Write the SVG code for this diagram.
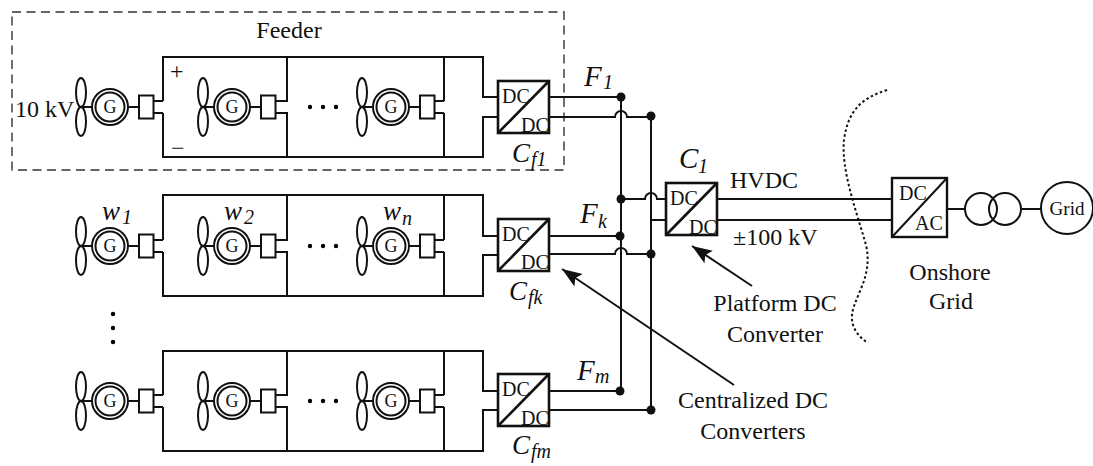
<svg xmlns="http://www.w3.org/2000/svg" width="1093" height="466" viewBox="0 0 1093 466">
<style>
text{font-family:"Liberation Serif","Times New Roman",serif;fill:#111}
.l{fill:none;stroke:#111;stroke-width:2}
.t{font-size:24px}
.d{font-size:20px}
.g{font-size:18px;text-anchor:middle}
.i{font-style:italic;font-size:29px}
.w{font-style:italic;font-size:27px}
.s{font-style:italic;font-size:20px}
.m{text-anchor:middle}
</style>
<defs>
<g id="wt" class="l">
<ellipse cx="0" cy="-14.5" rx="5" ry="14.5"/><ellipse cx="0" cy="14.5" rx="5" ry="14.5"/>
<path d="M0 0H11M47 0H58"/>
<circle cx="29" cy="0" r="18"/><circle cx="29" cy="0" r="14.5"/>
<rect x="58" y="-11.5" width="14.5" height="23"/>
<path d="M72.5 -6H82M72.5 6H82"/>
</g>
<g id="conv" class="l" style="stroke-width:2.6"><rect x="0" y="0" width="51" height="52"/><path d="M0 52L51 0"/></g>
<marker id="ah" markerWidth="22" markerHeight="18" refX="20" refY="9" orient="auto-start-reverse" markerUnits="userSpaceOnUse"><path d="M20 9L0 1.5L4 9L0 16.5Z" fill="#111"/></marker>
<g id="dots"><circle cx="310" cy="0" r="2.2"/><circle cx="323" cy="0" r="2.2"/><circle cx="336" cy="0" r="2.2"/></g>
</defs>
<g id="feeder-frame"><rect x="12" y="12" width="552" height="158" fill="none" stroke="#333" stroke-width="1.4" stroke-dasharray="9 5.5"/><text x="289" y="38" class="t m">Feeder</text></g>
<g id="feeder-1">
<use href="#wt" x="81" y="107"/><use href="#wt" x="203" y="107"/><use href="#wt" x="362" y="107"/>
<path class="l" d="M163 101V57H483V97H498M163 113V157H483V117H498M287 57V101H285M287 157V113H285M444 57V101M444 157V113"/>
<text x="110" y="113" class="g">G</text><text x="232" y="113" class="g">G</text><text x="391" y="113" class="g">G</text>
<text x="15" y="117" class="t">10 kV</text><text x="170" y="79" class="t">+</text><text x="171" y="156" class="t">−</text>
<use href="#dots" y="107"/>
</g>
<g id="feeder-k">
<use href="#wt" x="81" y="246"/><use href="#wt" x="203" y="246"/><use href="#wt" x="362" y="246"/>
<path class="l" d="M163 240V195H483V236H498M163 252V296H483V255H498M287 195V240H285M287 296V252H285M444 195V240M444 296V252"/>
<text x="110" y="252" class="g">G</text><text x="232" y="252" class="g">G</text><text x="391" y="252" class="g">G</text>
<text x="102" y="220" class="w">w</text><text x="122" y="224" class="s">1</text>
<text x="224" y="220" class="w">w</text><text x="244" y="224" class="s">2</text>
<text x="383" y="220" class="w">w</text><text x="402" y="225" class="s">n</text>
<use href="#dots" y="246"/>
</g>
<g id="feeder-m">
<use href="#wt" x="81" y="401"/><use href="#wt" x="203" y="401"/><use href="#wt" x="362" y="401"/>
<path class="l" d="M163 395V351H483V391H498M163 407V451H483V410H498M287 351V395H285M287 451V407H285M444 351V395M444 451V407"/>
<text x="110" y="407" class="g">G</text><text x="232" y="407" class="g">G</text><text x="391" y="407" class="g">G</text>
<use href="#dots" y="401"/>
<circle cx="113" cy="314" r="2.2"/><circle cx="113" cy="328" r="2.2"/><circle cx="113" cy="342" r="2.2"/>
</g>
<g id="conv-f1"><use href="#conv" x="498" y="81"/><text x="502" y="103" class="d">DC</text><text x="521" y="132" class="d">DC</text><text x="512" y="162" class="w">C</text><text x="531" y="166" class="s">f1</text></g>
<g id="conv-fk"><use href="#conv" x="498" y="219"/><text x="502" y="241" class="d">DC</text><text x="521" y="269" class="d">DC</text><text x="509" y="300" class="w">C</text><text x="528" y="304" class="s">fk</text></g>
<g id="conv-fm"><use href="#conv" x="498" y="374"/><text x="502" y="396" class="d">DC</text><text x="521" y="425" class="d">DC</text><text x="512" y="454" class="w">C</text><text x="531" y="458" class="s">fm</text></g>
<g id="conv-c1"><use href="#conv" x="666" y="183"/><text x="670" y="205" class="d">DC</text><text x="689" y="234" class="d">DC</text><text x="679" y="168" class="i">C</text><text x="698" y="173" class="s">1</text></g>
<g id="conv-ac"><rect x="892" y="178" width="55" height="59" class="l" style="stroke-width:2.4"/><path class="l" d="M892 237L947 178"/><text x="899" y="200" class="d">DC</text><text x="915" y="230" class="d">AC</text></g>
<g id="transformer"><circle class="l" cx="981" cy="209" r="16"/><circle class="l" cx="1005" cy="209" r="16"/></g>
<g id="grid"><circle class="l" cx="1067" cy="208" r="26"/><text x="1067" y="215" class="m" style="font-size:19px">Grid</text></g>
<g id="connectors">
<path class="l" d="M549 97H621M549 117H615A6 6 0 0 1 627 117H651M549 236H620M549 254H615A6 6 0 0 1 627 254H651M549 391H620M549 410H651"/>
<path class="l" d="M621 97V391M651 116V410"/>
<path class="l" d="M621 199H645A6 6 0 0 1 657 199H666M651 220H666M717 199H892M717 220H892M947 209H965M1021 209H1041"/>
<g fill="#111"><circle cx="621" cy="97" r="4.5"/><circle cx="651" cy="116" r="4.5"/><circle cx="621" cy="199" r="4.5"/><circle cx="620" cy="236" r="4.5"/><circle cx="651" cy="254" r="4.5"/><circle cx="620" cy="391" r="4.5"/><circle cx="651" cy="410" r="4.5"/></g>
<path class="l" d="M692 246L752 286" marker-start="url(#ah)"/>
<path class="l" d="M562 269L734 385" marker-start="url(#ah)"/>
<path d="M887 90C862 98 848 110 844 140C841 170 856 210 866 245C874 280 850 300 852 320C853 330 860 338 868 343" fill="none" stroke="#111" stroke-width="2" stroke-dasharray="2.5 2.5"/>
</g>
<g id="labels">
<text x="584" y="86" class="i">F</text><text x="603" y="89" class="s">1</text>
<text x="580" y="223" class="i">F</text><text x="598" y="228" class="s">k</text>
<text x="577" y="380" class="i">F</text><text x="595" y="383" class="s">m</text>
<text x="730" y="188" class="t">HVDC</text><text x="733" y="245" class="t">±100 kV</text>
<text x="950" y="280" class="t m">Onshore</text><text x="951" y="309" class="t m">Grid</text>
<text x="775" y="311" class="t m">Platform DC</text><text x="775" y="342" class="t m">Converter</text>
<text x="753" y="408" class="t m">Centralized DC</text><text x="753" y="439" class="t m">Converters</text>
</g>
</svg>
